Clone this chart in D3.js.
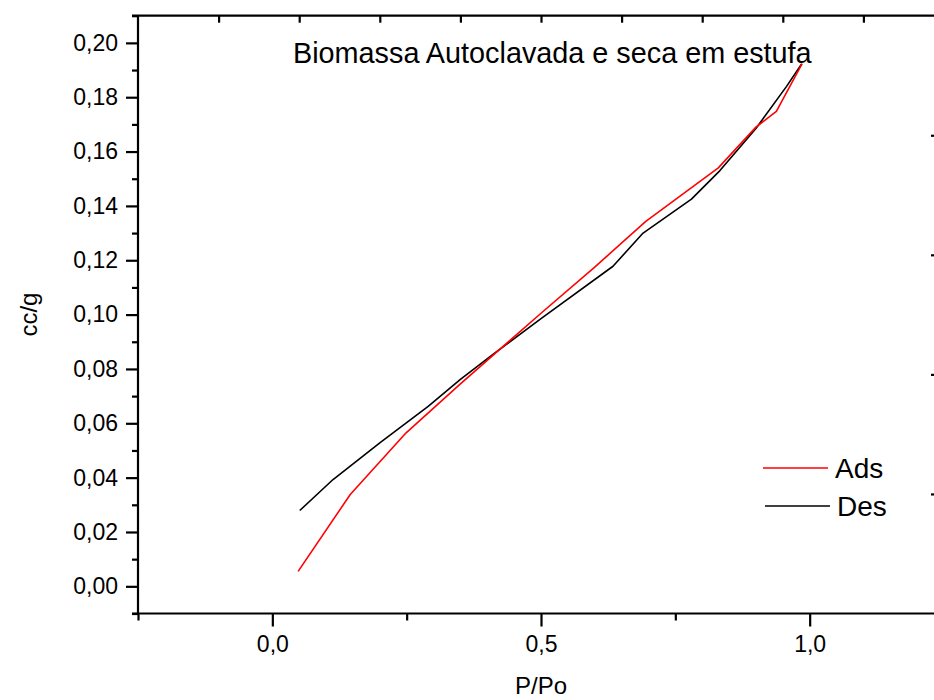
<!DOCTYPE html>
<html>
<head>
<meta charset="utf-8">
<script src="https://cdn.jsdelivr.net/npm/d3@7/dist/d3.min.js"></script>
<style>
  html, body { margin: 0; padding: 0; background: #fff; }
  svg { display: block; }
  text { font-family: "Liberation Sans", Arial, sans-serif; fill: #000; }
</style>
</head>
<body>
<svg id="chart" width="934" height="700"></svg>
<script>
// Isotherm for autoclaved, oven-dried biomass: adsorption and desorption branches
const adsP = [0.048, 0.145, 0.249, 0.35, 0.5, 0.6, 0.695, 0.83, 0.9, 0.938, 0.986];
const adsV = [0.0055, 0.0338, 0.0565, 0.0745, 0.1005, 0.1175, 0.1343, 0.154, 0.169, 0.1748, 0.1924];

const desP = [0.051, 0.113, 0.2, 0.29, 0.35, 0.41, 0.5, 0.634, 0.69, 0.78, 0.833, 0.9, 0.957, 0.985];
const desV = [0.0279, 0.0393, 0.0528, 0.0662, 0.0762, 0.0853, 0.0985, 0.1178, 0.130, 0.1425, 0.153, 0.1685, 0.184, 0.1922];

const seriesNames = ["Ads", "Des"];
const seriesColors = ["#ff0000", "#000000"];

const xMajorTicks = [0.0, 0.5, 1.0];
const xMinorTicks = [-0.25, 0.25, 0.75, 1.25];
const yMajorTicks = [0.00, 0.02, 0.04, 0.06, 0.08, 0.10, 0.12, 0.14, 0.16, 0.18, 0.20];
const yMinorTicks = [-0.01, 0.01, 0.03, 0.05, 0.07, 0.09, 0.11, 0.13, 0.15, 0.17, 0.19, 0.21];
const topTicks = [-0.1, 0.05, 0.2, 0.35, 0.5, 0.65, 0.8, 0.95, 1.1];
const rightTicks = [0.034, 0.078, 0.122, 0.166];

const title = "Biomassa Autoclavada e seca em estufa";
const xTitle = "P/Po";
const yTitle = "cc/g";

const svg = d3.select("#chart");
const plotLeft = 138, plotRight = 944, plotTop = 15.7, plotBottom = 613.5;

const x = d3.scaleLinear().domain([-0.25, 1.25]).range([plotLeft, plotRight]);
const y = d3.scaleLinear().domain([-0.01, 0.21]).range([plotBottom, plotTop]);

const ptBR = d3.formatLocale({ decimal: ",", thousands: ".", grouping: [3], currency: ["R$", ""] });
const fmtY = ptBR.format(".2f");
const fmtX = ptBR.format(".1f");

// Frame lines
const axisStroke = 2.2;
svg.append("line").attr("x1", plotLeft).attr("x2", plotLeft).attr("y1", plotTop).attr("y2", plotBottom)
  .attr("stroke", "#000").attr("stroke-width", axisStroke);
svg.append("line").attr("x1", plotLeft - 6).attr("x2", 934).attr("y1", plotTop).attr("y2", plotTop)
  .attr("stroke", "#000").attr("stroke-width", axisStroke);
svg.append("line").attr("x1", plotLeft - 6).attr("x2", 934).attr("y1", plotBottom).attr("y2", plotBottom)
  .attr("stroke", "#000").attr("stroke-width", axisStroke);

function styleTicks(g) {
  g.select(".domain").remove();
  g.selectAll("line").attr("stroke", "#000").attr("stroke-width", axisStroke);
  g.selectAll("text").attr("font-size", 23).attr("font-family", "Liberation Sans, Arial, sans-serif").attr("fill", "#000");
}

// Left axis
const gy = svg.append("g").attr("transform", `translate(${plotLeft},0)`);
gy.append("g").call(d3.axisLeft(y).tickValues(yMajorTicks).tickSize(12).tickPadding(8).tickFormat(fmtY)).call(styleTicks);
gy.append("g").call(d3.axisLeft(y).tickValues(yMinorTicks).tickSize(6).tickFormat("")).call(styleTicks);

// Bottom axis
const gx = svg.append("g").attr("transform", `translate(0,${plotBottom})`);
gx.append("g").call(d3.axisBottom(x).tickValues(xMajorTicks).tickSize(13).tickPadding(9).tickFormat(fmtX)).call(styleTicks);
gx.append("g").call(d3.axisBottom(x).tickValues(xMinorTicks).tickSize(7).tickFormat("")).call(styleTicks);

// Top axis ticks (inward)
svg.append("g").attr("transform", `translate(0,${plotTop})`)
  .call(d3.axisBottom(x).tickValues(topTicks).tickSize(7).tickFormat("")).call(styleTicks);

// Right axis ticks (inward)
svg.append("g").attr("transform", `translate(${plotRight},0)`)
  .call(d3.axisLeft(y).tickValues(rightTicks).tickSize(13).tickFormat("")).call(styleTicks);

// Curves
const line = d3.line().x(d => x(d[0])).y(d => y(d[1]));
const adsData = adsP.map((p, i) => [p, adsV[i]]);
const desData = desP.map((p, i) => [p, desV[i]]);

svg.append("path").datum(desData).attr("d", line)
  .attr("fill", "none").attr("stroke", seriesColors[1]).attr("stroke-width", 1.6).attr("stroke-linejoin", "round");
svg.append("path").datum(adsData).attr("d", line)
  .attr("fill", "none").attr("stroke", seriesColors[0]).attr("stroke-width", 1.6).attr("stroke-linejoin", "round");

// Title
svg.append("text").attr("x", 293).attr("y", 63).attr("font-size", 28.8).text(title);

// Axis titles
svg.append("text").attr("x", (plotLeft + plotRight) / 2).attr("y", 694).attr("text-anchor", "middle")
  .attr("font-size", 24).text(xTitle);
svg.append("text").attr("transform", `translate(37,${(plotTop + plotBottom) / 2}) rotate(-90)`)
  .attr("text-anchor", "middle").attr("font-size", 24).text(yTitle);

// Legend
const legendRows = [468, 506];
const legendLineX = [[763, 828], [765, 830]];
seriesNames.forEach((name, i) => {
  svg.append("line").attr("x1", legendLineX[i][0]).attr("x2", legendLineX[i][1])
    .attr("y1", legendRows[i]).attr("y2", legendRows[i])
    .attr("stroke", seriesColors[i]).attr("stroke-width", 1.6);
  svg.append("text").attr("x", legendLineX[i][1] + 7).attr("y", legendRows[i] + 10)
    .attr("font-size", 28).text(name);
});
</script>
</body>
</html>
